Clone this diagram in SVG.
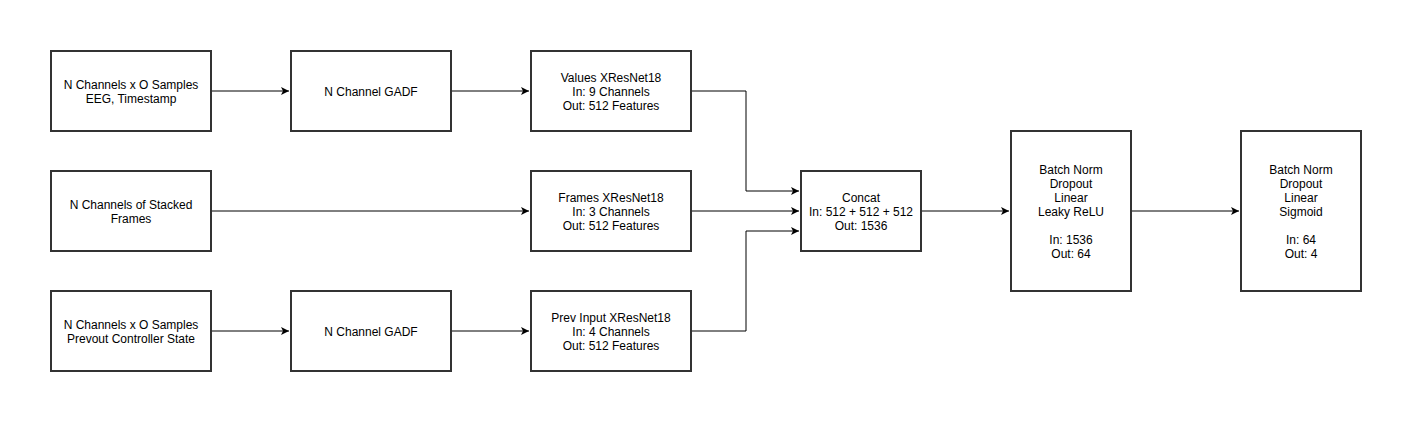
<svg xmlns="http://www.w3.org/2000/svg" width="1412" height="422" viewBox="0 0 1412 422">
<style>
.box{fill:#fff;stroke:#333;stroke-width:2}
.t{font-family:"Liberation Sans",Arial,sans-serif;font-size:12px;fill:#000;text-anchor:middle}
.c{fill:none;stroke:#000;stroke-width:1}
</style>
<defs>
<marker id="arr" markerWidth="10" markerHeight="10" refX="8" refY="4" orient="auto" markerUnits="userSpaceOnUse">
<path d="M0,0 L8,4 L0,8 L2,4 Z" fill="#000"/>
</marker>
</defs>
<rect width="1412" height="422" fill="#fff"/>
<g id="connectors">
<path class="c" d="M211,91 H289" marker-end="url(#arr)"/>
<path class="c" d="M451,91 H529" marker-end="url(#arr)"/>
<path class="c" d="M691,91 H746 V191 H799" marker-end="url(#arr)"/>
<path class="c" d="M211,211 H529" marker-end="url(#arr)"/>
<path class="c" d="M691,211 H799" marker-end="url(#arr)"/>
<path class="c" d="M211,331 H289" marker-end="url(#arr)"/>
<path class="c" d="M451,331 H529" marker-end="url(#arr)"/>
<path class="c" d="M691,331 H746 V231 H799" marker-end="url(#arr)"/>
<path class="c" d="M921,211 H1009" marker-end="url(#arr)"/>
<path class="c" d="M1131,211 H1239" marker-end="url(#arr)"/>
</g>
<g id="eeg"><rect class="box" x="51" y="51" width="160" height="80"/><text class="t" x="131" y="89">N Channels x O Samples</text><text class="t" x="131" y="103">EEG, Timestamp</text></g>
<g id="gadf1"><rect class="box" x="291" y="51" width="160" height="80"/><text class="t" x="371" y="96">N Channel GADF</text></g>
<g id="values"><rect class="box" x="531" y="51" width="160" height="80"/><text class="t" x="611" y="82">Values XResNet18</text><text class="t" x="611" y="96">In: 9 Channels</text><text class="t" x="611" y="110">Out: 512 Features</text></g>
<g id="frames-in"><rect class="box" x="51" y="171" width="160" height="80"/><text class="t" x="131" y="209">N Channels of Stacked</text><text class="t" x="131" y="223">Frames</text></g>
<g id="frames"><rect class="box" x="531" y="171" width="160" height="80"/><text class="t" x="611" y="202">Frames XResNet18</text><text class="t" x="611" y="216">In: 3 Channels</text><text class="t" x="611" y="230">Out: 512 Features</text></g>
<g id="prev-in"><rect class="box" x="51" y="291" width="160" height="80"/><text class="t" x="131" y="329">N Channels x O Samples</text><text class="t" x="131" y="343">Prevout Controller State</text></g>
<g id="gadf2"><rect class="box" x="291" y="291" width="160" height="80"/><text class="t" x="371" y="336">N Channel GADF</text></g>
<g id="prev"><rect class="box" x="531" y="291" width="160" height="80"/><text class="t" x="611" y="322">Prev Input XResNet18</text><text class="t" x="611" y="336">In: 4 Channels</text><text class="t" x="611" y="350">Out: 512 Features</text></g>
<g id="concat"><rect class="box" x="801" y="171" width="120" height="80"/><text class="t" x="861" y="202">Concat</text><text class="t" x="861" y="216">In: 512 + 512 + 512</text><text class="t" x="861" y="230">Out: 1536</text></g>
<g id="head1"><rect class="box" x="1011" y="131" width="120" height="160"/><text class="t" x="1071" y="174">Batch Norm</text><text class="t" x="1071" y="188">Dropout</text><text class="t" x="1071" y="202">Linear</text><text class="t" x="1071" y="216">Leaky ReLU</text><text class="t" x="1071" y="244">In: 1536</text><text class="t" x="1071" y="258">Out: 64</text></g>
<g id="head2"><rect class="box" x="1241" y="131" width="120" height="160"/><text class="t" x="1301" y="174">Batch Norm</text><text class="t" x="1301" y="188">Dropout</text><text class="t" x="1301" y="202">Linear</text><text class="t" x="1301" y="216">Sigmoid</text><text class="t" x="1301" y="244">In: 64</text><text class="t" x="1301" y="258">Out: 4</text></g>
</svg>
